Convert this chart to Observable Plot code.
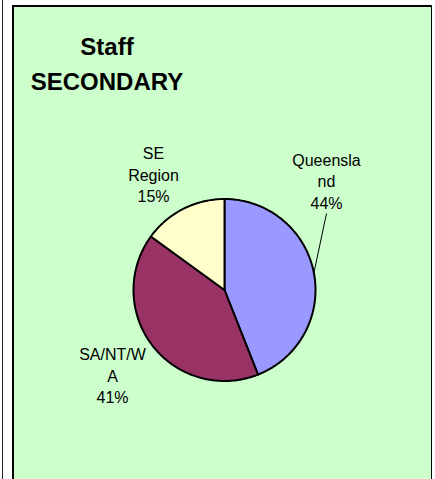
<!DOCTYPE html>
<html>
<head>
<meta charset="utf-8">
<script src="https://cdn.jsdelivr.net/npm/d3@7"></script>
<script src="https://cdn.jsdelivr.net/npm/@observablehq/plot@0.6"></script>
<style>
  html, body { margin: 0; padding: 0; background: #fff; }
  body { width: 435px; height: 479px; position: relative; overflow: hidden; font-family: "Liberation Sans", Arial, sans-serif; }
  #edge { position: absolute; left: 2px; top: 0; width: 1px; height: 479px; background: #222; }
  #panel { position: absolute; left: 12px; top: 5px; width: 420px; height: 490px; box-sizing: border-box;
           background: #CCFFCC; border: 1px solid #000; border-left-width: 2px; border-top-width: 2px; }
  #chart { position: absolute; left: 0; top: 0; }
</style>
</head>
<body>
<div id="edge"></div>
<div id="panel"></div>
<div id="chart"></div>
<script>
// ---- data ----
const titleLines = ["Staff", "SECONDARY"];
const regions = ["Queensland", "SA/NT/WA", "SE Region"];
const shares = [44, 41, 15];
const wrappedNames = ["Queensla\nnd", "SA/NT/W\nA", "SE\nRegion"];
const sliceColors = ["#9999FF", "#993366", "#FFFFCC"];

// ---- layout ----
const W = 435, H = 479;
const cx = 224, cy = 289.5, R = 91;
// label anchor (centre x, cap-top y of first line)
const labelPos = { "Queensland": [326, 150], "SA/NT/WA": [112, 344.5], "SE Region": [153, 143.5] };

const total = d3.sum(shares);
const slices = [];
let acc = 0;
regions.forEach((r, i) => {
  const a0 = acc / total * 2 * Math.PI;
  acc += shares[i];
  const a1 = acc / total * 2 * Math.PI;
  slices.push({ region: r, share: shares[i], a0, a1, name: wrappedNames[i] });
});

const polyPts = [];
for (const s of slices) {
  polyPts.push({ region: s.region, x: cx, y: cy });
  const n = Math.max(8, Math.ceil((s.a1 - s.a0) / (Math.PI / 180)));
  for (let k = 0; k <= n; k++) {
    const a = s.a0 + (s.a1 - s.a0) * k / n;
    polyPts.push({ region: s.region, x: cx + R * Math.sin(a), y: cy - R * Math.cos(a) });
  }
  polyPts.push({ region: s.region, x: cx, y: cy });
}

const labels = slices.map(s => ({
  region: s.region,
  text: s.name + "\n" + s.share + "%",
  x: labelPos[s.region][0],
  y: labelPos[s.region][1]
}));

// leader for Queensland: from under the label to the slice mid-angle on the rim
const q = slices[0];
const qm = (q.a0 + q.a1) / 2;
const leaders = [{
  x1: labelPos["Queensland"][0], y1: 213,
  x2: cx + R * Math.sin(qm), y2: cy - R * Math.cos(qm)
}];

const chart = Plot.plot({
  width: W, height: H,
  margin: 0,
  style: { background: "transparent", overflow: "visible", fontFamily: "'Liberation Sans', Arial, sans-serif" },
  x: { domain: [0, W], range: [0, W], axis: null },
  y: { domain: [0, H], range: [0, H], axis: null },
  color: { domain: regions, range: sliceColors },
  marks: [
    Plot.line(polyPts, { x: "x", y: "y", z: "region", fill: "region", stroke: "#000", strokeWidth: 2, strokeLinejoin: "round", curve: "linear" }),
    Plot.link(leaders, { x1: "x1", y1: "y1", x2: "x2", y2: "y2", stroke: "#000", strokeWidth: 1 }),
    Plot.text(labels, { x: "x", y: "y", text: "text", textAnchor: "middle", lineAnchor: "top", lineHeight: 1.34, fontSize: 16, fill: "#000" }),
    Plot.text([titleLines.join("\n")], { x: () => 106.5, y: () => 30, text: d => d, textAnchor: "middle", lineAnchor: "top", lineHeight: 1.46, fontSize: 24, fontWeight: "bold", fill: "#000" })
  ]
});
document.getElementById("chart").appendChild(chart);
</script>
</body>
</html>
